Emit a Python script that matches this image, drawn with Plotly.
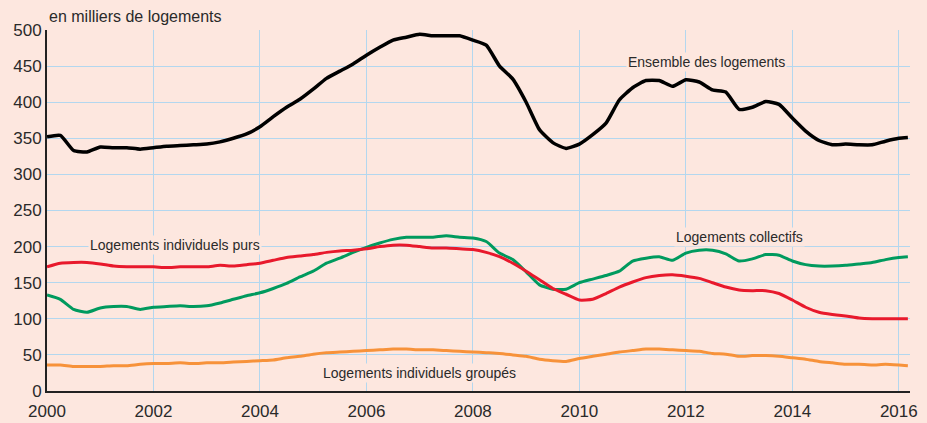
import plotly.graph_objects as go

years = [2000 + q * 0.25 for q in range(65)] + [2016.17]

ensemble = [352, 354, 333, 331, 338, 337, 337, 335,
            337, 339, 340, 341, 342, 345, 350, 356,
            366, 380, 393, 404, 418, 433, 443, 453,
            465, 476, 486, 490, 494, 492, 492, 492,
            486, 479, 450, 432, 400, 362, 344, 336,
            342, 355, 371, 403, 420, 430, 430, 422,
            431, 428, 417, 414, 390, 393, 401, 397,
            378, 360, 347, 341, 342, 341, 341, 346,
            350, 351]

purs = [172, 177, 178, 178, 176, 173, 172, 172,
        172, 171, 172, 172, 172, 174, 173, 175,
        177, 181, 185, 187, 189, 192, 194, 195,
        197, 200, 202, 202, 200, 198, 198, 197,
        196, 192, 186, 177, 166, 154, 142, 134,
        126, 127, 135, 144, 151, 157, 160, 161,
        159, 156, 150, 144, 140, 139, 139, 135,
        126, 116, 109, 106, 104, 101, 100, 100,
        100, 100]

collectifs = [133, 127, 113, 109, 115, 117, 117, 113,
              116, 117, 118, 117, 118, 122, 127, 132,
              136, 142, 149, 158, 166, 177, 184, 192,
              199, 205, 210, 213, 213, 213, 215, 213,
              212, 207, 191, 182, 165, 147, 141, 141,
              150, 155, 160, 166, 180, 184, 186, 181,
              191, 195, 195, 190, 180, 183, 189, 188,
              180, 175, 173, 173, 174, 176, 178, 182,
              185, 186]

groupes = [36, 36, 34, 34, 34, 35, 35, 37,
           38, 38, 39, 38, 39, 39, 40, 41,
           42, 43, 46, 48, 51, 53, 54, 55,
           56, 57, 58, 58, 57, 57, 56, 55,
           54, 53, 52, 50, 48, 44, 42, 41,
           45, 48, 51, 54, 56, 58, 58, 57,
           56, 55, 52, 51, 48, 49, 49, 48,
           46, 44, 41, 39, 37, 37, 36, 37,
           36, 35]

x_ticks = [2000, 2002, 2004, 2006, 2008, 2010, 2012, 2014, 2016]
y_ticks = [0, 50, 100, 150, 200, 250, 300, 350, 400, 450, 500]

BG = "#fde7df"
GRID = "#b3d7ef"
FONT = "Liberation Sans Narrow, Arial Narrow, Liberation Sans, sans-serif"
TXT = "#2a2a2a"

fig = go.Figure()
series = [
    (groupes, "#f7923a", 3),
    (collectifs, "#009a5e", 3),
    (purs, "#e8192c", 3),
    (ensemble, "#000000", 3.5),
]
for vals, col, w in series:
    fig.add_trace(go.Scatter(x=years, y=vals, mode="lines",
                             line=dict(color=col, width=w, shape="spline", smoothing=0.5),
                             showlegend=False, hoverinfo="skip"))

labels = [
    ("Ensemble des logements", 2012.38, 456),
    ("Logements individuels purs", 2002.4, 202),
    ("Logements collectifs", 2013.0, 213),
    ("Logements individuels groupés", 2007.0, 25),
]
for txt, xv, yv in labels:
    fig.add_annotation(x=xv, y=yv, text=txt, showarrow=False,
                       font=dict(family=FONT, size=14, color=TXT),
                       bgcolor=BG, borderpad=1)

fig.add_annotation(xref="paper", yref="paper", x=0, y=1, xanchor="left",
                   yanchor="bottom", yshift=3, text="en milliers de logements",
                   showarrow=False, font=dict(family=FONT, size=16, color=TXT))

fig.update_layout(
    width=927, height=423,
    margin=dict(l=47, r=17, t=30, b=32),
    paper_bgcolor=BG, plot_bgcolor=BG,
    font=dict(family=FONT, size=17, color=TXT),
)
fig.update_xaxes(range=[2000, 2016.21], tickvals=x_ticks, showgrid=True,
                 gridcolor=GRID, gridwidth=1, showline=True, linecolor="#222222",
                 linewidth=2, zeroline=False, ticks="", tickfont=dict(size=17),
                 ticklabelstandoff=4, automargin=False)
fig.update_yaxes(range=[0, 500], tickvals=y_ticks, showgrid=True,
                 gridcolor=GRID, gridwidth=1, showline=True, linecolor="#222222",
                 linewidth=2, zeroline=False, ticks="", tickfont=dict(size=17),
                 automargin=False)

fig.write_html("out.html", config={"displayModeBar": False},
               post_script="document.body.style.margin='0';")
